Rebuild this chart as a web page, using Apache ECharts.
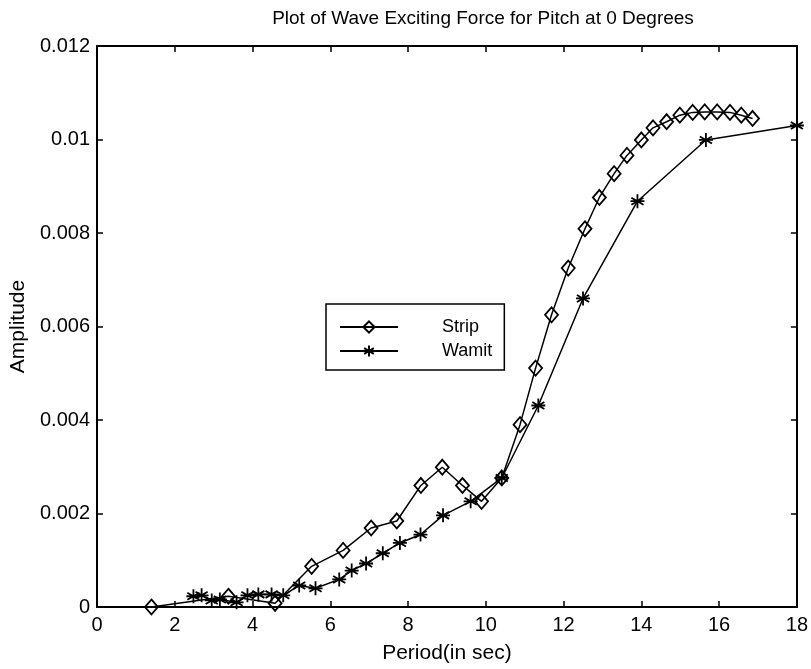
<!DOCTYPE html>
<html>
<head>
<meta charset="utf-8">
<script src="https://cdn.jsdelivr.net/npm/echarts@6/dist/echarts.min.js"></script>
<style>
html,body{margin:0;padding:0;background:#fff;}
#chart{width:811px;height:669px;}
</style>
</head>
<body>
<div id="chart"></div>
<script>
// Strip (diamonds)
var stripPeriod = [1.40, 3.38, 4.58, 5.52, 6.33, 7.05, 7.71, 8.33, 8.88, 9.40, 9.89, 10.41, 10.88, 11.28, 11.69, 12.12, 12.55, 12.92, 13.30, 13.63, 14.00, 14.30, 14.65, 14.99, 15.32, 15.63, 15.95, 16.28, 16.57, 16.86];
var stripAmp = [0.00000, 0.00023, 0.00008, 0.00087, 0.00121, 0.00169, 0.00184, 0.00260, 0.00299, 0.00260, 0.00226, 0.00276, 0.00390, 0.00511, 0.00625, 0.00725, 0.00809, 0.00876, 0.00927, 0.00966, 0.00999, 0.01025, 0.01038, 0.01052, 0.01058, 0.01059, 0.01059, 0.01058, 0.01052, 0.01045];
// Wamit (asterisks)
var wamitPeriod = [2.48, 2.69, 2.95, 3.16, 3.59, 3.87, 4.15, 4.49, 4.79, 5.20, 5.62, 6.23, 6.55, 6.92, 7.35, 7.79, 8.32, 8.90, 9.61, 10.41, 11.35, 12.50, 13.90, 15.66, 18.00];
var wamitAmp = [0.00023, 0.00025, 0.00014, 0.00016, 0.00010, 0.00025, 0.00027, 0.00027, 0.00025, 0.00046, 0.00040, 0.00059, 0.00078, 0.00093, 0.00115, 0.00137, 0.00155, 0.00196, 0.00226, 0.00276, 0.00431, 0.00660, 0.00868, 0.00999, 0.01030];

var xTickLabels = ['0','2','4','6','8','10','12','14','16','18'];
var yTickLabels = ['0','0.002','0.004','0.006','0.008','0.01','0.012'];

var titleText = 'Plot of Wave Exciting Force for Pitch at 0 Degrees';
var xName = 'Period(in sec)';
var yName = 'Amplitude';
var seriesNames = ['Strip', 'Wamit'];

function zip(a, b) { return a.map(function (v, i) { return [v, b[i]]; }); }

var FONT = "'Liberation Sans', Arial, sans-serif";
var asterisk = 'path://M0,-10L0,10M-8.66,-5L8.66,5M-8.66,5L8.66,-5M-10,0L10,0';

var chart = echarts.init(document.getElementById('chart'), null, {renderer: 'canvas'});

var baseX = {
  type: 'value', min: 0, max: 18, interval: 2,
  axisLine: {show: true, onZero: false, lineStyle: {color: '#000', width: 2}},
  axisTick: {show: true, inside: true, length: 6, lineStyle: {color: '#000', width: 1.5}},
  splitLine: {show: false}
};
var baseY = {
  type: 'value', min: 0, max: 0.012, interval: 0.002,
  axisLine: {show: true, onZero: false, lineStyle: {color: '#000', width: 2}},
  axisTick: {show: true, inside: true, length: 6, lineStyle: {color: '#000', width: 1.5}},
  splitLine: {show: false}
};

chart.setOption({
  backgroundColor: '#fff',
  animation: false,
  title: {
    text: titleText,
    left: 478, top: 4, textAlign: 'center',
    textStyle: {fontFamily: FONT, fontSize: 19, fontWeight: 'normal', color: '#000'}
  },
  grid: {left: 97, right: 14, top: 46, bottom: 62},
  legend: {
    orient: 'vertical',
    left: 326, top: 304,
    data: seriesNames,
    backgroundColor: '#fff',
    borderColor: '#000', borderWidth: 1.5,
    padding: [14, 12, 10, 13],
    itemWidth: 58, itemHeight: 14, itemGap: 6,
    textStyle: {fontFamily: FONT, fontSize: 18, color: '#000', padding: [0, 0, 0, 39]}
  },
  xAxis: [
    Object.assign({}, baseX, {
      position: 'bottom',
      name: xName, nameLocation: 'middle', nameGap: 36,
      nameTextStyle: {fontFamily: FONT, fontSize: 21, color: '#000'},
      axisLabel: {show: true, margin: 8, fontFamily: FONT, fontSize: 20, color: '#000',
        formatter: function (v) { return xTickLabels[Math.round(v / 2)]; }}
    }),
    Object.assign({}, baseX, {position: 'top', axisLabel: {show: false}})
  ],
  yAxis: [
    Object.assign({}, baseY, {
      position: 'left',
      name: yName, nameLocation: 'middle', nameGap: 68, nameRotate: 90,
      nameTextStyle: {fontFamily: FONT, fontSize: 21, color: '#000'},
      axisLabel: {show: true, margin: 7, fontFamily: FONT, fontSize: 20, color: '#000',
        formatter: function (v) { return yTickLabels[Math.round(v / 0.002)]; }}
    }),
    Object.assign({}, baseY, {position: 'right', axisLabel: {show: false}})
  ],
  series: [
    {
      name: seriesNames[0], type: 'line', xAxisIndex: 0, yAxisIndex: 0,
      data: zip(stripPeriod, stripAmp),
      symbol: 'diamond', symbolSize: [13, 15], showAllSymbol: true,
      color: '#000',
      lineStyle: {color: '#000', width: 1.5},
      itemStyle: {color: 'none', borderColor: '#000', borderWidth: 1.8},
      emphasis: {disabled: true}
    },
    {
      name: seriesNames[1], type: 'line', xAxisIndex: 0, yAxisIndex: 0,
      data: zip(wamitPeriod, wamitAmp),
      symbol: asterisk, symbolSize: 14, showAllSymbol: true,
      color: '#000',
      lineStyle: {color: '#000', width: 1.5},
      itemStyle: {color: 'none', borderColor: '#000', borderWidth: 1.8},
      emphasis: {disabled: true}
    }
  ]
});
</script>
</body>
</html>
